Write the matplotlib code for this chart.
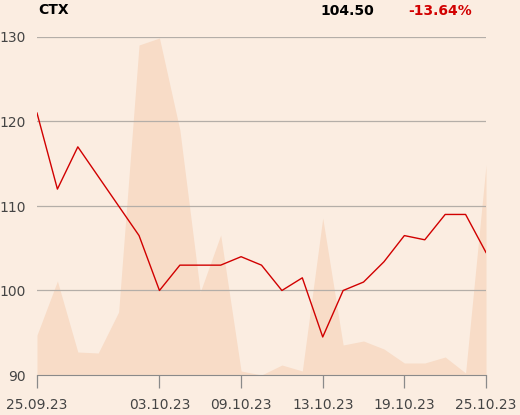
import matplotlib
matplotlib.use('Agg')
import matplotlib.pyplot as plt
import numpy as np

# closing prices, one per trading day
prices = [121, 112, 117, 113.5, 110, 106.5, 100, 103, 103, 103, 104, 103,
          100, 101.5, 94.5, 100, 101, 103.4, 106.5, 106, 109, 109, 104.5]
# traded volume (relative units)
volumes = [40, 94, 23, 22, 63, 330, 337, 245, 83, 140, 4, 0, 10, 4, 157,
           30, 34, 26, 12, 12, 18, 2, 210]
tick_pos = [0, 6, 10, 14, 18, 22]
tick_labels = ['25.09.23', '03.10.23', '09.10.23', '13.10.23', '19.10.23', '25.10.23']
y_ticks = [90, 100, 110, 120, 130]

bg = '#fbede1'
fig = plt.figure(figsize=(5.2, 4.15), dpi=100, facecolor=bg)
ax = fig.add_axes([37 / 520, 40 / 415, 449 / 520, 338 / 415])
ax.set_facecolor(bg)

x = np.arange(len(prices))

axv = ax.twinx()
axv.fill_between(x, 0, volumes, color='#f8dcc7', lw=0)
axv.set_ylim(0, 338)
axv.axis('off')
ax.set_zorder(axv.get_zorder() + 1)
ax.patch.set_visible(False)

for v in y_ticks[1:]:
    ax.axhline(v, color='#b4aea8', lw=0.9, zorder=1)
ax.plot(x, prices, color='#d10000', lw=1.0, zorder=3)

ax.set_xlim(0, len(prices) - 1)
ax.set_ylim(90, 130)
ax.set_yticks(y_ticks)
ax.set_xticks(tick_pos)
ax.set_xticklabels(tick_labels)
for s in ['top', 'right', 'left']:
    ax.spines[s].set_visible(False)
ax.spines['bottom'].set_color('#8a8a8a')
ax.tick_params(axis='y', length=0, pad=8, labelsize=10, labelcolor='#444444')
ax.tick_params(axis='x', length=9.5, width=0.9, color='#8a8a8a', pad=7,
               labelsize=10, labelcolor='#444444')

fig.text(38 / 520, 1 - 10 / 415, 'CTX', fontsize=10, fontweight='bold', va='center')
fig.text(374 / 520, 1 - 11 / 415, '104.50', fontsize=10, fontweight='bold', va='center', ha='right')
fig.text(472 / 520, 1 - 11 / 415, '-13.64%', fontsize=10, fontweight='bold', va='center',
         ha='right', color='#d10000')

fig.savefig('out.png', dpi=100, facecolor=bg)
